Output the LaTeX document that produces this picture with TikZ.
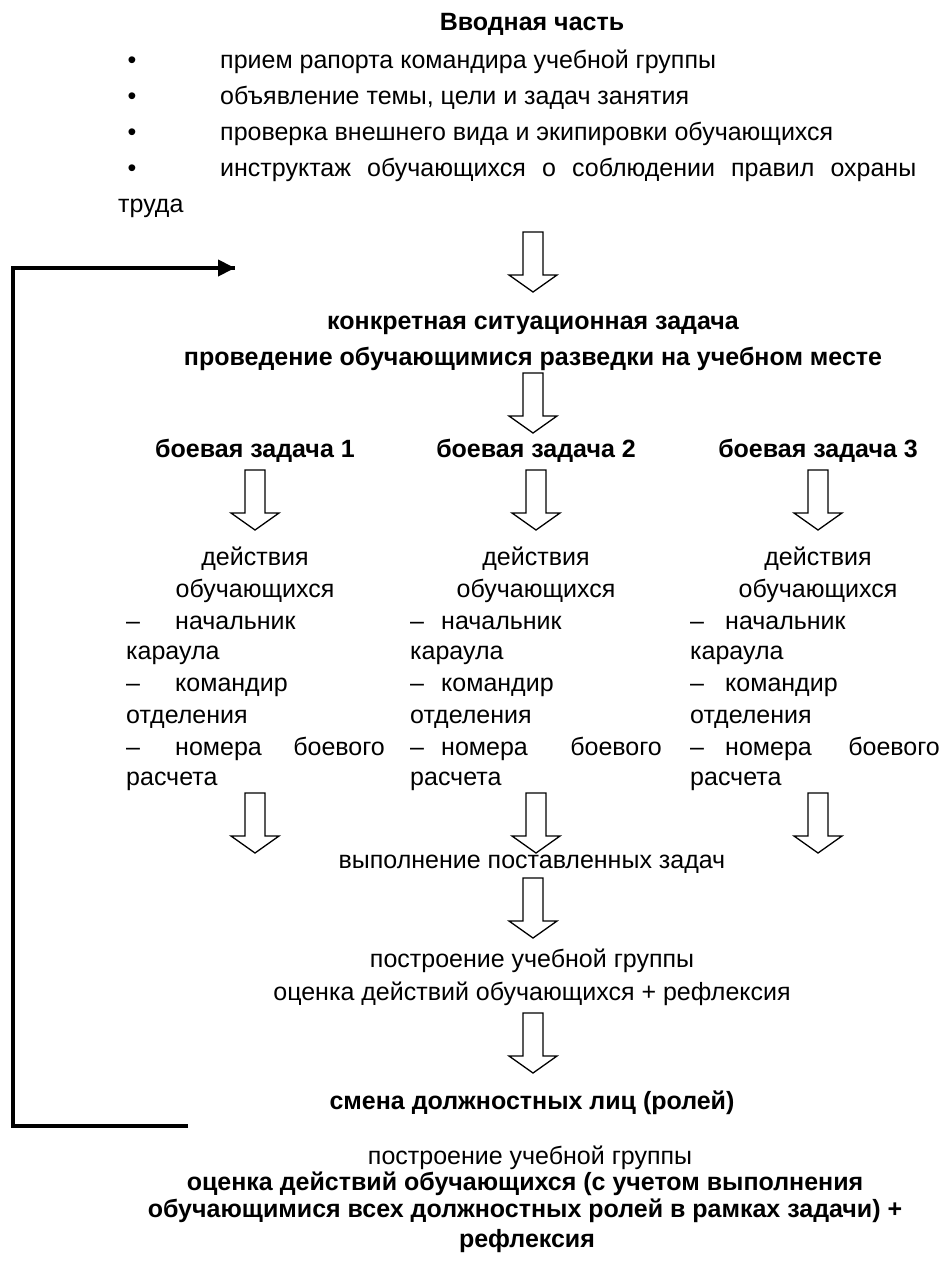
\documentclass[tikz,border=0pt]{standalone}
\usepackage{fontspec}
\setmainfont{Liberation Sans}
\usetikzlibrary{arrows.meta}

\begin{document}
\begin{tikzpicture}[x=1pt,y=-1pt,
  txt/.style={inner sep=0pt,anchor=base,font=\fontsize{25}{30}\selectfont},
  txtl/.style={txt,anchor=base west},
  txtr/.style={txt,anchor=base east},
  btxt/.style={txt,font=\fontsize{25}{30}\selectfont\bfseries},
  arrowline/.style={draw=black,line width=1.3pt,line join=miter},
  loopline/.style={draw=black,line width=4pt},
  pics/blockarrow/.style={code={
    \draw[arrowline] (-10,0) -- (-10,43) -- (-24,43) -- (0,60) -- (24,43) -- (10,43) -- (10,0) -- cycle;}}
]
\useasboundingbox (0,0) rectangle (944,1263);

% introductory part
\node[btxt] (intro) at (532,31) {Вводная часть};
\foreach \y/\t [count=\k] in {68/прием рапорта командира учебной группы,
    104/{объявление темы, цели и задач занятия},
    140/проверка внешнего вида и экипировки обучающихся}{
  \node[txt] (b\k) at (132,\y) {\textbullet};
  \node[txtl] (item\k) at (220,\y) {\t};
}
\node[txt] (b4) at (132,176) {\textbullet};
\node[txtl] (item4) at (220,176) {\makebox[696pt][s]{инструктаж обучающихся о соблюдении правил охраны}};
\node[txtl] (item4b) at (118,212) {труда};

% situational task
\pic at (533,232) {blockarrow};
\node[btxt] (task1) at (533,329) {конкретная ситуационная задача};
\node[btxt] (task2) at (533,365) {проведение обучающимися разведки на учебном месте};
\pic at (533,373) {blockarrow};

% three combat tasks
\foreach \i/\L/\W/\R/\C in {1/126/175/385/255, 2/410/441/662/536, 3/690/725/940/818}{
  \node[btxt] (combat\i) at (\C,457) {боевая задача \i};
  \pic at (\C,470) {blockarrow};
  \node[txt] (act\i) at (\C,565) {действия};
  \node[txt] (stud\i) at (\C,597) {обучающихся};
  \node[txtl] (da\i) at (\L,629) {–};
  \node[txtl] (ra\i) at (\W,629) {начальник};
  \node[txtl] (rb\i) at (\L,659) {караула};
  \node[txtl] (db\i) at (\L,691) {–};
  \node[txtl] (rc\i) at (\W,691) {командир};
  \node[txtl] (rd\i) at (\L,723) {отделения};
  \node[txtl] (dc\i) at (\L,755) {–};
  \node[txtl] (re\i) at (\W,755) {номера};
  \node[txtr] (rf\i) at (\R,755) {боевого};
  \node[txtl] (rg\i) at (\L,785) {расчета};
  \pic at (\C,793) {blockarrow};
}

% execution and debriefing
\node[txt] (exec) at (532,868) {выполнение поставленных задач};
\pic at (533,878) {blockarrow};
\node[txt] (form1) at (532,967) {построение учебной группы};
\node[txt] (eval1) at (532,1000) {оценка действий обучающихся + рефлексия};
\pic at (533,1013) {blockarrow};
\node[btxt] (swap) at (532,1109) {смена должностных лиц (ролей)};
\node[txt] (form2) at (530,1164) {построение учебной группы};
\node[btxt] (eval2a) at (525,1190) {оценка действий обучающихся (с учетом выполнения};
\node[btxt] (eval2b) at (525,1217) {обучающимися всех должностных ролей в рамках задачи) +};
\node[btxt] (eval2c) at (527,1247) {рефлексия};

% role-change loop back to the situational task
\coordinate (loopstart) at (188,1126);
\coordinate (loopcorner1) at (13,1126);
\coordinate (loopcorner2) at (13,268);
\coordinate (loopend) at (235,268);
\draw[loopline] (loopstart) -- (loopcorner1) -- (loopcorner2) -- (loopend);
\draw[line width=4pt,-{Triangle[length=17pt,width=16pt]}] (200,268) -- (loopend);
\end{tikzpicture}
\end{document}
